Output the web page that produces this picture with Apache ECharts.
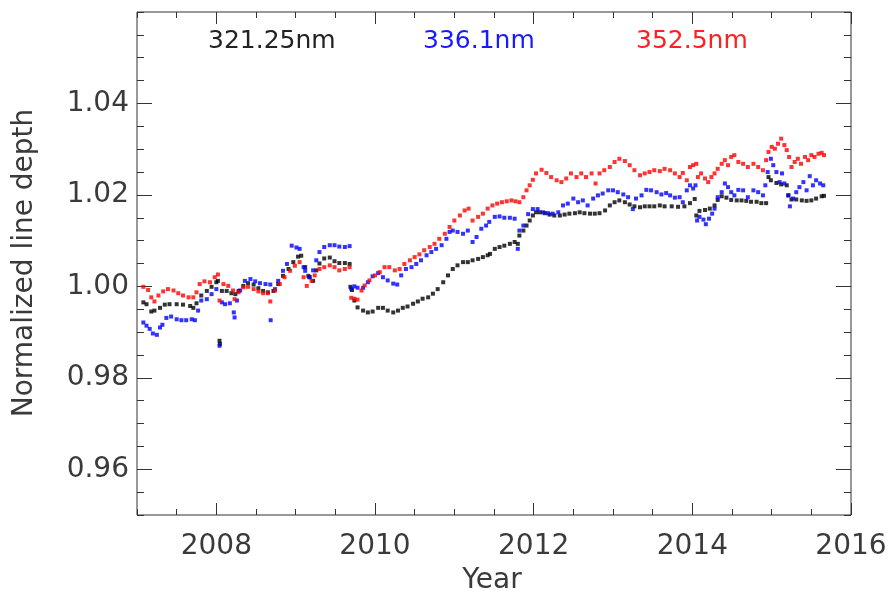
<!DOCTYPE html>
<html>
<head>
<meta charset="utf-8">
<script src="https://cdn.jsdelivr.net/npm/echarts@6/dist/echarts.min.js"></script>
<style>html,body{margin:0;padding:0;background:#fff}#c{width:890px;height:597px}</style>
</head>
<body>
<div id="c"></div>
<script>
// ---- data ----
const seriesNames = ['321.25nm', '336.1nm', '352.5nm'];
const xTickLabels = [2008, 2010, 2012, 2014, 2016];
const yTickLabels = [0.96, 0.98, 1.00, 1.02, 1.04];

const blackYears = [2007.08,2007.12,2007.18,2007.22,2007.29,2007.35,2007.41,2007.50,2007.58,2007.67,2007.71,2007.75,2007.81,2007.88,2007.94,2008.00,2008.02,2008.04,2008.045,2008.07,2008.13,2008.19,2008.24,2008.28,2008.34,2008.40,2008.47,2008.53,2008.59,2008.65,2008.72,2008.78,2008.84,2008.91,2008.97,2009.03,2009.07,2009.12,2009.16,2009.175,2009.22,2009.26,2009.30,2009.36,2009.43,2009.49,2009.55,2009.62,2009.68,
2009.69,2009.71,2009.74,2009.78,2009.85,2009.91,2009.97,2010.04,2010.10,2010.16,2010.23,2010.29,2010.35,2010.41,2010.48,2010.54,2010.60,2010.67,2010.73,2010.79,2010.86,2010.92,2010.98,2011.04,2011.11,2011.17,2011.23,2011.30,2011.36,2011.42,2011.45,2011.51,2011.57,2011.63,2011.70,2011.76,2011.80,
2011.82,2011.87,2011.91,2011.95,2011.99,2012.03,2012.08,2012.14,2012.20,2012.26,2012.33,2012.39,2012.45,2012.52,2012.58,2012.64,2012.71,2012.77,2012.83,2012.90,2012.96,2013.02,2013.08,2013.15,2013.21,2013.27,2013.34,2013.40,2013.46,2013.52,2013.59,2013.65,2013.74,2013.82,2013.90,2013.97,2014.03,
2014.05,2014.09,2014.16,2014.22,2014.28,2014.32,2014.37,2014.43,2014.49,2014.56,2014.62,2014.68,2014.74,2014.81,2014.87,2014.93,2014.96,2014.99,2015.06,2015.12,2015.19,2015.21,2015.25,2015.31,2015.38,2015.44,2015.50,2015.56,2015.63,2015.66];
const blackValues = [0.9965,0.9961,0.9945,0.9947,0.9953,0.9960,0.9961,0.9961,0.9960,0.9957,0.9953,0.9963,0.9980,0.9990,0.9999,1.0009,1.0012,0.9881,0.9874,0.9990,0.9990,0.9985,0.9983,0.9990,1.0001,1.0007,1.0004,0.9996,0.9990,0.9987,0.9990,1.0005,1.0023,1.0038,1.0053,1.0065,1.0067,1.0042,1.0023,1.0020,1.0012,1.0035,1.0050,1.0061,1.0063,1.0055,1.0051,1.0051,1.0049,
0.9999,0.9992,0.9969,0.9954,0.9947,0.9943,0.9945,0.9953,0.9953,0.9947,0.9943,0.9947,0.9953,0.9956,0.9962,0.9967,0.9973,0.9976,0.9984,0.9994,1.0009,1.0024,1.0038,1.0046,1.0053,1.0053,1.0057,1.0060,1.0064,1.0068,1.0071,1.0082,1.0086,1.0089,1.0093,1.0097,1.0093,
1.0111,1.0122,1.0133,1.0144,1.0155,1.0162,1.0162,1.0160,1.0157,1.0155,1.0155,1.0157,1.0159,1.0160,1.0162,1.0160,1.0159,1.0159,1.0160,1.0166,1.0177,1.0184,1.0188,1.0184,1.0179,1.0175,1.0173,1.0175,1.0175,1.0175,1.0177,1.0175,1.0175,1.0174,1.0175,1.0182,1.0191,
1.0155,1.0165,1.0167,1.0170,1.0177,1.0189,1.0197,1.0194,1.0189,1.0188,1.0188,1.0187,1.0185,1.0185,1.0182,1.0182,1.0239,1.0232,1.0226,1.0223,1.0221,1.0199,1.0190,1.0190,1.0188,1.0187,1.0188,1.0192,1.0197,1.0198];

const blueYears = [2007.08,2007.12,2007.16,2007.20,2007.25,2007.29,2007.32,2007.37,2007.43,2007.50,2007.56,2007.62,2007.69,2007.73,2007.77,2007.81,2007.88,2007.94,2008.00,2008.04,2008.07,2008.11,2008.17,2008.22,2008.23,2008.26,2008.30,2008.36,2008.43,2008.49,2008.55,2008.62,2008.68,2008.685,2008.74,2008.78,2008.84,2008.89,2008.95,2009.01,2009.05,2009.10,2009.12,2009.175,2009.22,2009.26,2009.30,2009.36,2009.43,2009.49,2009.55,2009.62,2009.68,
2009.70,2009.74,2009.78,2009.85,2009.91,2009.97,2010.04,2010.10,2010.16,2010.23,2010.28,2010.33,2010.39,2010.46,2010.52,2010.58,2010.65,2010.71,2010.77,2010.84,2010.90,2010.94,2010.98,2011.04,2011.11,2011.17,2011.23,2011.28,2011.34,2011.40,2011.44,2011.51,2011.57,2011.63,2011.70,2011.76,2011.80,
2011.82,2011.87,2011.93,2011.99,2012.05,2012.12,2012.18,2012.24,2012.31,2012.37,2012.43,2012.50,2012.56,2012.62,2012.68,2012.75,2012.81,2012.87,2012.94,2013.00,2013.06,2013.13,2013.19,2013.25,2013.29,2013.36,2013.42,2013.48,2013.55,2013.61,2013.67,2013.72,2013.78,2013.84,2013.88,2013.93,2013.97,2014.01,2014.04,
2014.06,2014.09,2014.14,2014.17,2014.21,2014.25,2014.28,2014.32,2014.37,2014.41,2014.45,2014.49,2014.53,2014.58,2014.64,2014.70,2014.77,2014.83,2014.89,2014.92,2014.95,2014.99,2015.02,2015.06,2015.10,2015.13,2015.16,2015.21,2015.23,2015.27,2015.31,2015.35,2015.40,2015.44,2015.48,2015.52,2015.56,2015.61,2015.65];
const blueValues = [0.9921,0.9914,0.9907,0.9897,0.9894,0.9910,0.9916,0.9931,0.9934,0.9928,0.9926,0.9926,0.9928,0.9926,0.9947,0.9969,0.9972,0.9983,0.9994,0.9870,0.9965,0.9961,0.9963,0.9943,0.9932,0.9969,0.9991,1.0012,1.0016,1.0011,1.0007,1.0005,1.0004,0.9926,0.9994,1.0012,1.0034,1.0049,1.0089,1.0085,1.0082,1.0042,1.0034,1.0020,1.0035,1.0057,1.0075,1.0086,1.0090,1.0090,1.0087,1.0086,1.0088,
0.9995,1.0000,0.9997,0.9997,1.0009,1.0022,1.0029,1.0020,1.0013,1.0006,1.0004,1.0024,1.0038,1.0042,1.0049,1.0057,1.0068,1.0075,1.0082,1.0090,1.0104,1.0119,1.0122,1.0119,1.0115,1.0122,1.0097,1.0108,1.0126,1.0133,1.0141,1.0152,1.0153,1.0150,1.0150,1.0148,1.0082,
1.0122,1.0133,1.0158,1.0169,1.0169,1.0162,1.0160,1.0159,1.0162,1.0177,1.0181,1.0192,1.0184,1.0188,1.0177,1.0192,1.0199,1.0203,1.0210,1.0210,1.0206,1.0201,1.0195,1.0169,1.0192,1.0199,1.0211,1.0210,1.0206,1.0201,1.0204,1.0199,1.0194,1.0195,1.0184,1.0210,1.0221,1.0214,1.0221,
1.0144,1.0152,1.0146,1.0136,1.0148,1.0159,1.0170,1.0195,1.0206,1.0225,1.0217,1.0206,1.0199,1.0211,1.0210,1.0195,1.0210,1.0206,1.0199,1.0221,1.0250,1.0279,1.0265,1.0250,1.0228,1.0247,1.0225,1.0199,1.0175,1.0192,1.0206,1.0217,1.0228,1.0210,1.0241,1.0221,1.0232,1.0225,1.0221];

const redYears = [2007.08,2007.14,2007.18,2007.22,2007.27,2007.33,2007.39,2007.46,2007.52,2007.58,2007.65,2007.71,2007.75,2007.79,2007.85,2007.92,2007.98,2008.02,2008.04,2008.09,2008.15,2008.21,2008.23,2008.28,2008.34,2008.40,2008.47,2008.53,2008.59,2008.65,2008.68,2008.74,2008.80,2008.86,2008.93,2008.99,2009.05,2009.10,2009.14,2009.20,2009.24,2009.30,2009.36,2009.43,2009.49,2009.55,2009.62,2009.68,
2009.70,2009.74,2009.78,2009.83,2009.87,2009.93,2010.00,2010.06,2010.12,2010.18,2010.25,2010.31,2010.37,2010.44,2010.50,2010.56,2010.62,2010.69,2010.75,2010.81,2010.88,2010.94,2011.00,2011.07,2011.13,2011.18,2011.23,2011.30,2011.36,2011.42,2011.48,2011.54,2011.60,2011.66,2011.72,2011.77,2011.82,
2011.87,2011.91,2011.95,2011.99,2012.03,2012.10,2012.16,2012.22,2012.29,2012.35,2012.41,2012.47,2012.54,2012.60,2012.66,2012.73,2012.78,2012.83,2012.89,2012.96,2013.02,2013.08,2013.15,2013.21,2013.27,2013.34,2013.40,2013.46,2013.52,2013.59,2013.65,2013.72,2013.78,2013.84,2013.88,2013.93,2013.97,2014.01,2014.05,
2014.07,2014.11,2014.16,2014.20,2014.24,2014.28,2014.32,2014.37,2014.41,2014.45,2014.49,2014.53,2014.58,2014.64,2014.70,2014.77,2014.83,2014.89,2014.93,2014.96,2015.00,2015.04,2015.08,2015.12,2015.16,2015.19,
2015.22,2015.25,2015.29,2015.33,2015.37,2015.42,2015.46,2015.50,2015.54,2015.59,2015.63,2015.66];
const redValues = [0.9999,0.9992,0.9976,0.9967,0.9980,0.9989,0.9994,0.9991,0.9985,0.9980,0.9976,0.9976,0.9987,1.0005,1.0011,1.0009,1.0020,1.0026,0.9969,1.0005,1.0001,0.9991,0.9972,0.9987,0.9998,0.9999,0.9994,0.9989,0.9985,0.9985,0.9967,0.9991,1.0005,1.0020,1.0034,1.0045,1.0053,1.0020,1.0001,1.0012,1.0024,1.0038,1.0042,1.0046,1.0042,1.0035,1.0038,1.0042,
0.9975,0.9973,0.9971,0.9991,1.0002,1.0013,1.0024,1.0031,1.0042,1.0042,1.0035,1.0038,1.0049,1.0057,1.0064,1.0070,1.0079,1.0086,1.0093,1.0104,1.0115,1.0130,1.0144,1.0155,1.0166,1.0170,1.0144,1.0152,1.0159,1.0170,1.0177,1.0181,1.0184,1.0186,1.0188,1.0186,1.0184,
1.0195,1.0210,1.0221,1.0233,1.0247,1.0255,1.0248,1.0239,1.0232,1.0228,1.0236,1.0247,1.0239,1.0247,1.0239,1.0247,1.0225,1.0247,1.0254,1.0261,1.0272,1.0279,1.0274,1.0265,1.0254,1.0243,1.0247,1.0250,1.0254,1.0252,1.0257,1.0254,1.0247,1.0239,1.0248,1.0232,1.0261,1.0265,1.0268,
1.0239,1.0247,1.0236,1.0228,1.0239,1.0247,1.0257,1.0268,1.0276,1.0265,1.0283,1.0287,1.0272,1.0268,1.0261,1.0268,1.0261,1.0254,1.0276,1.0294,1.0305,1.0301,1.0312,1.0323,1.0309,1.0298,
1.0283,1.0261,1.0272,1.0279,1.0268,1.0283,1.0276,1.0287,1.0283,1.0290,1.0292,1.0287];

// ---- chart ----
const FONT = 'DejaVu Sans';
const TXT = '#3a3a3a';
const xMinor = [];
for (let k = 0; k <= 18; k++) xMinor.push(2007 + k * 0.5);
const yMinor = [];
for (let k = 0; k <= 22; k++) yMinor.push(Math.round((0.95 + k * 0.005) * 1000) / 1000);

function zip(a, b) { return a.map((v, i) => [v, b[i]]); }

const baseX = { type: 'value', min: 2007, max: 2016, splitLine: { show: false }, axisLine: { show: false } };
const baseY = { type: 'value', min: 0.95, max: 1.06, splitLine: { show: false }, axisLine: { show: false } };
const tickStyle = { color: '#333', width: 1 };

const chart = echarts.init(document.getElementById('c'), null, { renderer: 'canvas' });
chart.setOption({
  animation: false,
  backgroundColor: '#fff',
  grid: { left: 137, right: 39, top: 12, bottom: 82, show: true, borderColor: '#333', borderWidth: 1, outerBoundsMode: 'none' },
  xAxis: [
    Object.assign({}, baseX, { position: 'bottom',
      axisTick: { show: true, inside: true, length: 12, lineStyle: tickStyle, customValues: xTickLabels },
      axisLabel: { show: true, customValues: xTickLabels, margin: 18, fontFamily: FONT, fontSize: 28, color: TXT, formatter: v => String(Math.round(v)) } }),
    Object.assign({}, baseX, { position: 'bottom',
      axisTick: { show: true, inside: true, length: 6, lineStyle: tickStyle, customValues: xMinor },
      axisLabel: { show: false } }),
    Object.assign({}, baseX, { position: 'top',
      axisTick: { show: true, inside: true, length: 12, lineStyle: tickStyle, customValues: xTickLabels },
      axisLabel: { show: false } }),
    Object.assign({}, baseX, { position: 'top',
      axisTick: { show: true, inside: true, length: 6, lineStyle: tickStyle, customValues: xMinor },
      axisLabel: { show: false } })
  ],
  yAxis: [
    Object.assign({}, baseY, { position: 'left',
      axisTick: { show: true, inside: true, length: 15, lineStyle: tickStyle, customValues: yTickLabels },
      axisLabel: { show: true, customValues: yTickLabels, margin: 8, fontFamily: FONT, fontSize: 28, color: TXT, formatter: v => v.toFixed(2) } }),
    Object.assign({}, baseY, { position: 'left',
      axisTick: { show: true, inside: true, length: 7, lineStyle: tickStyle, customValues: yMinor },
      axisLabel: { show: false } }),
    Object.assign({}, baseY, { position: 'right',
      axisTick: { show: true, inside: true, length: 15, lineStyle: tickStyle, customValues: yTickLabels },
      axisLabel: { show: false } }),
    Object.assign({}, baseY, { position: 'right',
      axisTick: { show: true, inside: true, length: 7, lineStyle: tickStyle, customValues: yMinor },
      axisLabel: { show: false } })
  ],
  graphic: [
    { type: 'text', left: 208, top: 29, style: { text: seriesNames[0], fontFamily: FONT, fontSize: 25, fill: '#222' } },
    { type: 'text', left: 423, top: 29, style: { text: seriesNames[1], fontFamily: FONT, fontSize: 25, fill: '#1a1aff' } },
    { type: 'text', left: 636, top: 29, style: { text: seriesNames[2], fontFamily: FONT, fontSize: 25, fill: '#ff2020' } },
    { type: 'text', x: 25, y: 263, rotation: Math.PI / 2, style: { text: 'Normalized line depth', fontFamily: FONT, fontSize: 28, fill: TXT, align: 'center', verticalAlign: 'middle' } },
    { type: 'text', x: 492, y: 581, style: { text: 'Year', fontFamily: FONT, fontSize: 28, fill: TXT, align: 'center', verticalAlign: 'middle' } }
  ],
  series: [
    { name: seriesNames[0], type: 'scatter', symbol: 'rect', symbolSize: 4, itemStyle: { color: '#000' }, data: zip(blackYears, blackValues) },
    { name: seriesNames[1], type: 'scatter', symbol: 'rect', symbolSize: 4, itemStyle: { color: '#0000ff' }, data: zip(blueYears, blueValues) },
    { name: seriesNames[2], type: 'scatter', symbol: 'rect', symbolSize: 4, itemStyle: { color: '#ff0000' }, data: zip(redYears, redValues) }
  ]
});
</script>
</body>
</html>
